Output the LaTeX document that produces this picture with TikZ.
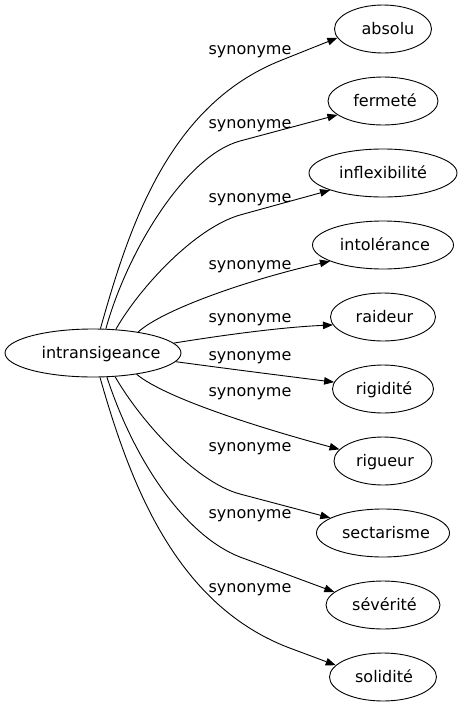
\documentclass[tikz,border=0pt]{standalone}
\usepackage{fontspec}
\setmainfont{DejaVu Sans}
\usetikzlibrary{shapes.geometric,arrows.meta}
\newcommand{\shifted}[2]{\makebox[0pt][c]{\hspace*{#1}#2}}
\begin{document}
\begin{tikzpicture}[x=1pt,y=-1pt,
  every node/.style={font=\fontsize{16}{19}\selectfont},
  word/.style={draw, line width=0.9pt, ellipse, inner sep=0pt, minimum height=48pt, text height=12pt, text depth=1pt},
  lbl/.style={inner sep=0pt},
  edge/.style={line width=0.9pt, -{Triangle[length=10pt,width=7.5pt]}}]
\useasboundingbox (0,0) rectangle (465,707);
\node[word, minimum width=176pt] (src) at (93,353) {\shifted{16pt}{intransigeance}};
\node[word, minimum width=97pt]  (n1)  at (383,29)  {\shifted{10pt}{absolu}};
\node[word, minimum width=110pt] (n2)  at (383,101) {\shifted{4pt}{fermeté}};
\node[word, minimum width=148pt] (n3)  at (383,173) {\shifted{0pt}{inflexibilité}};
\node[word, minimum width=141pt] (n4)  at (383,245) {\shifted{4pt}{intolérance}};
\node[word, minimum width=105pt] (n5)  at (383,317) {\shifted{3pt}{raideur}};
\node[word, minimum width=101pt] (n6)  at (383,389) {\shifted{2pt}{rigidité}};
\node[word, minimum width=98pt]  (n7)  at (383,461) {\shifted{4pt}{rigueur}};
\node[word, minimum width=133pt] (n8)  at (383,533) {\shifted{6pt}{sectarisme}};
\node[word, minimum width=114pt] (n9)  at (383,605) {\shifted{3pt}{sévérité}};
\node[word, minimum width=107pt] (n10) at (383,677) {\shifted{2pt}{solidité}};

\draw[edge] (src.73) .. controls (130,223) and (170,104) .. (282,60) -- (n1.191);
\draw[edge] (src.62) .. controls (127,252) and (185,156) .. (240,141) -- (n2.197);
\draw[edge] (src.46) .. controls (140,287) and (195,228) .. (240,215) -- (n3.198);
\draw[edge] (src.25) .. controls (165,308) and (255,278) .. (n4.197);
\draw[edge] (src.7) .. controls (230,334) and (285,327) .. (n5.189);
\draw[edge] (src.-6) .. controls (230,369) and (285,376) .. (n6.172);
\draw[edge] (src.-26) .. controls (165,398) and (260,428) .. (n7.165);
\draw[edge] (src.-47) .. controls (140,420) and (195,482) .. (240,494) -- (n8.164);
\draw[edge] (src.-60) .. controls (135,463) and (186,536) .. (240,557) -- (n9.165);
\draw[edge] (src.-74) .. controls (130,483) and (175,603) .. (287,647) -- (n10.166);

\node[lbl] (l1)  at (250,52)  {synonyme};
\node[lbl] (l2)  at (250,126) {synonyme};
\node[lbl] (l3)  at (250,200) {synonyme};
\node[lbl] (l4)  at (250,267) {synonyme};
\node[lbl] (l5)  at (250,320) {synonyme};
\node[lbl] (l6)  at (250,358) {synonyme};
\node[lbl] (l7)  at (250,394) {synonyme};
\node[lbl] (l8)  at (250,449) {synonyme};
\node[lbl] (l9)  at (250,516) {synonyme};
\node[lbl] (l10) at (250,590) {synonyme};
\end{tikzpicture}
\end{document}
